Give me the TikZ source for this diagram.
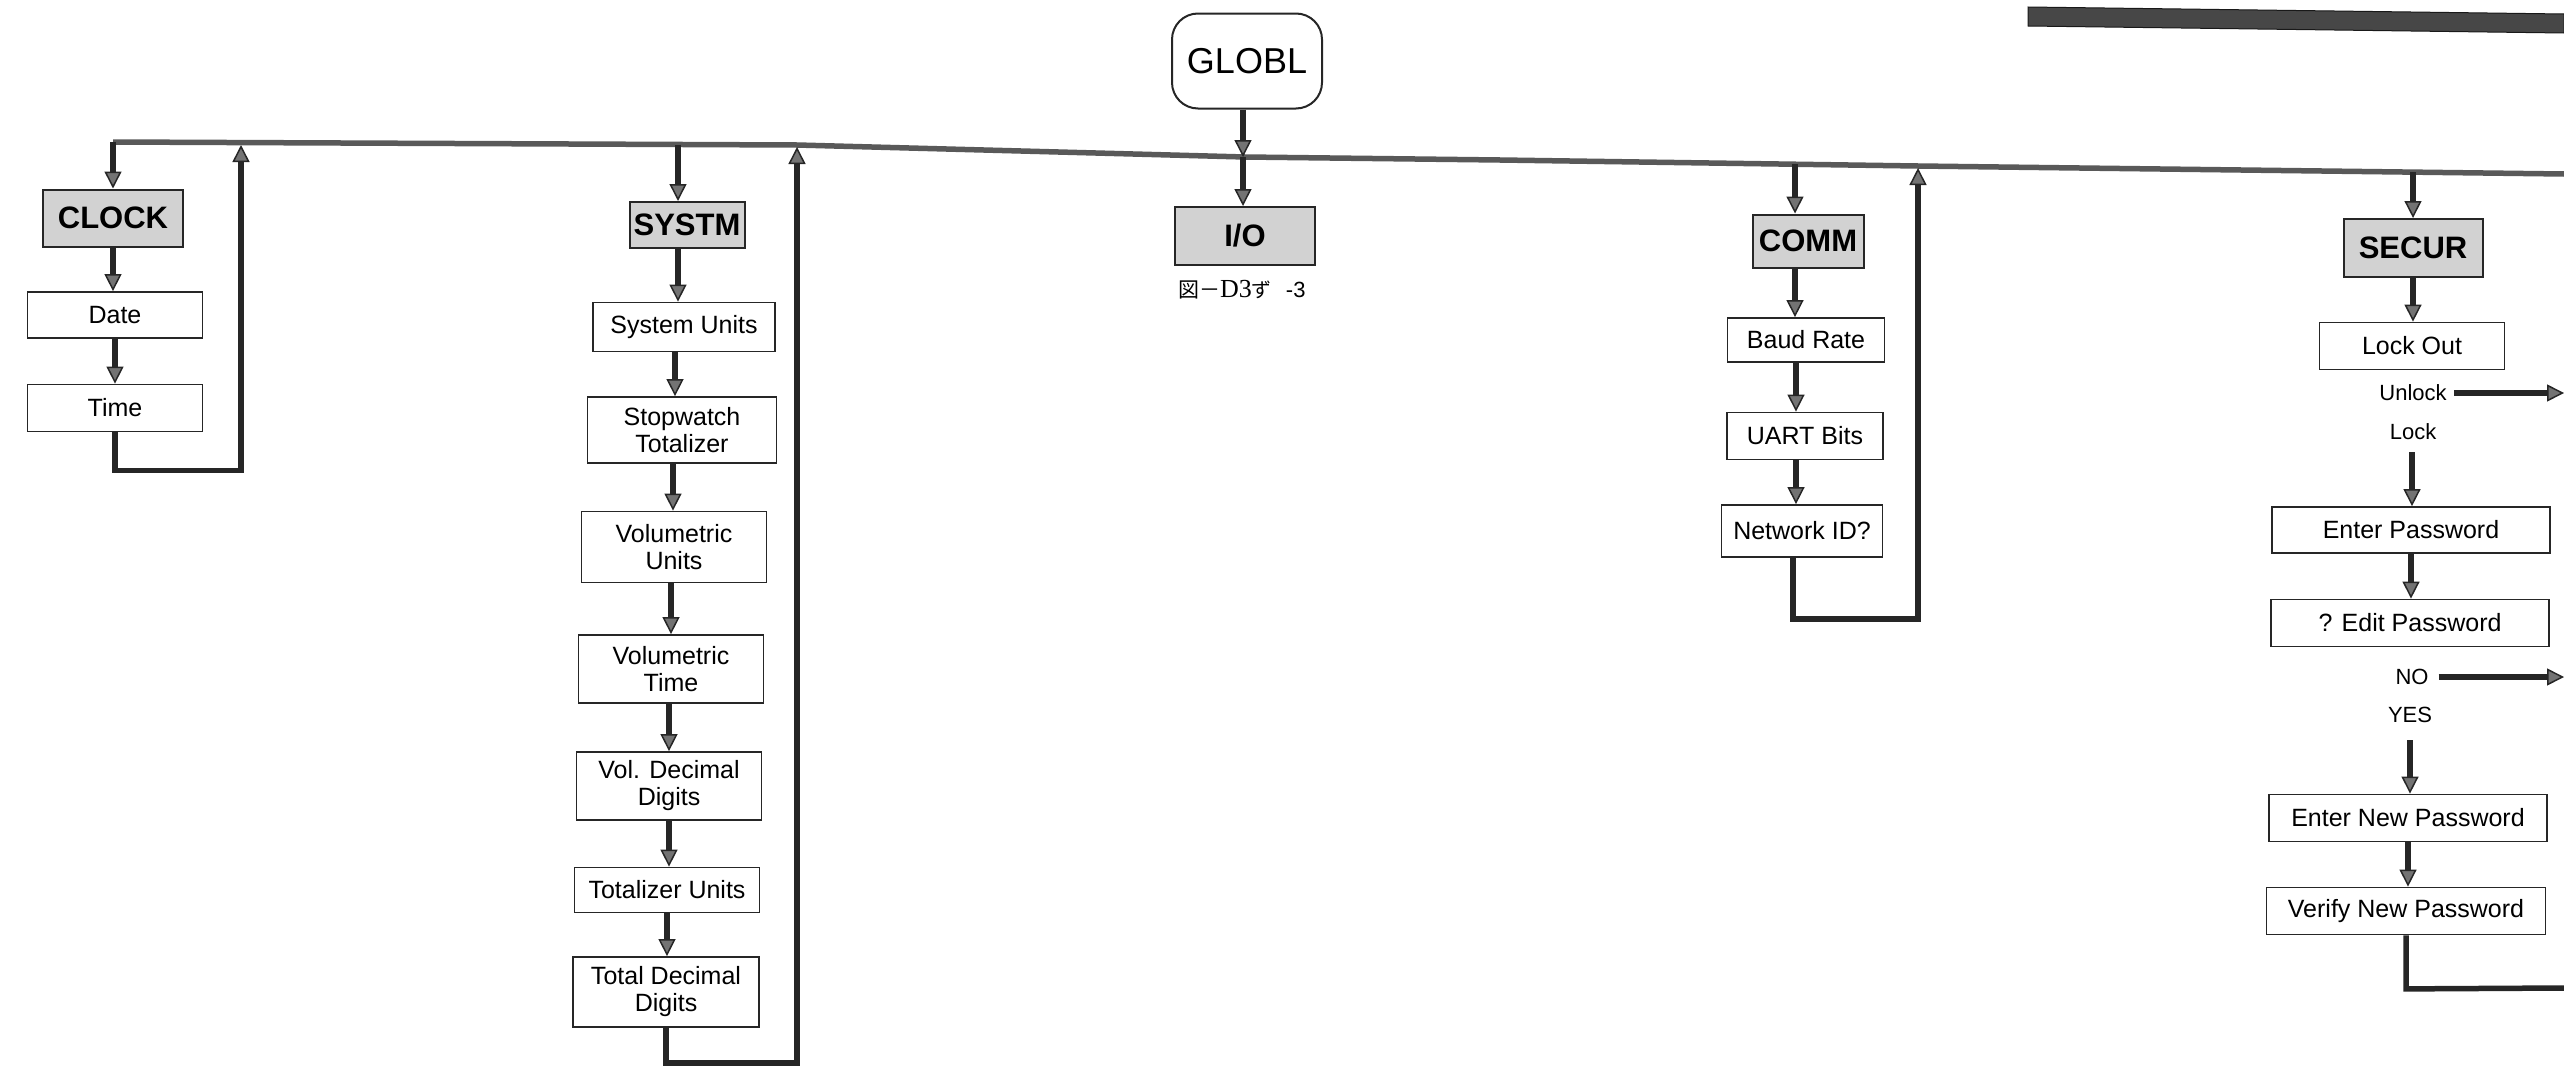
\documentclass[tikz,border=0pt]{standalone}
\usepackage{fontspec}
\setmainfont{Liberation Sans}
\newfontfamily\cjkfont{Noto Sans CJK JP}
\newfontfamily\serifont{Liberation Serif}
\usetikzlibrary{arrows.meta}
\begin{document}
\begin{tikzpicture}[x=1pt,y=-1pt,
  box/.style={draw=black!85, line width=1.8pt, fill=white, inner sep=0pt, align=center,
    font=\fontsize{25}{27}\selectfont},
  hdr/.style={draw=black!85, line width=2pt, fill=gray!35, inner sep=0pt,
    font=\fontsize{31}{33}\selectfont\bfseries},
  rbox/.style={draw=black!85, line width=2pt, fill=white, rounded corners=26pt, inner sep=0pt,
    font=\fontsize{36}{38}\selectfont},
  lbl/.style={inner sep=0pt, font=\fontsize{22}{24}\selectfont},
  conn/.style={draw=black!85, line width=5.5pt},
  arr/.style={conn, -{Triangle[length=17pt,width=17pt,line width=1.5pt,fill=black!55]}},
  bus/.style={draw=black!65, line width=5.5pt, line join=round},
]
\useasboundingbox (0,0) rectangle (2564,1068);

% top-right dark bar
\fill[black!72, draw=black!90, line width=1pt] (2028,7) -- (2564,14) -- (2564,33) -- (2028,26) -- cycle;

% bus
\coordinate (bA) at (113,142);
\coordinate (bB) at (797,145);
\coordinate (bC) at (1245,157);
\coordinate (bD) at (1500,160);
\coordinate (bE) at (1918,166);
\coordinate (bF) at (2564,174);
\draw[bus] (bA) -- (bB) -- (bC) -- (bD) -- (bE) -- (bF);

% junctions on the bus
\coordinate (jClkR) at (241,145);
\coordinate (jSys) at (678,144.5);
\coordinate (jSysR) at (797,147);
\coordinate (jGlb) at (1243,157);
\coordinate (jCom) at (1795,164);
\coordinate (jComR) at (1918,168);
\coordinate (jSec) at (2413,172);

% GLOBL and I/O
\node[rbox, minimum width=150, minimum height=95] (globl) at (1247,61) {GLOBL};
\node[hdr, minimum width=140, minimum height=58] (io) at (1245,236) {I/O};
\node[anchor=west, inner sep=0pt] (cap) at (1178,290)
  {{\cjkfont\fontsize{21}{23}\selectfont 図－}{\serifont\fontsize{26}{28}\selectfont D3}{\cjkfont\fontsize{20}{22}\selectfont ず}\hspace{14pt}{\fontsize{22}{24}\selectfont -3}};

% CLOCK column
\node[hdr, minimum width=140, minimum height=57] (clock) at (113,218) {CLOCK};
\node[box, minimum width=175, minimum height=46] (date) at (115,315) {Date};
\node[box, minimum width=175, minimum height=47] (time) at (115,408) {Time};

% SYSTM column
\node[hdr, minimum width=115, minimum height=46] (systm) at (687,225) {SYSTM};
\node[box, minimum width=182, minimum height=49] (sunits) at (684,327) {System Units};
\node[box, minimum width=189, minimum height=66] (stopw) at (682,430) {Stopwatch\\Totalizer};
\node[box, minimum width=185, minimum height=71] (vunits) at (674,547) {Volumetric\\Units};
\node[box, minimum width=185, minimum height=68] (vtime) at (671,669) {Volumetric\\Time};
\node[box, minimum width=185, minimum height=68] (vdec) at (669,786) {Vol. Decimal\\Digits};
\node[box, minimum width=185, minimum height=45] (tunits) at (667,890) {Totalizer Units};
\node[box, minimum width=186, minimum height=70] (tdec) at (666,992) {Total Decimal\\Digits};

% COMM column
\node[hdr, minimum width=111, minimum height=53] (comm) at (1808,241) {COMM};
\node[box, minimum width=157, minimum height=44] (baud) at (1806,340) {Baud Rate};
\node[box, minimum width=156, minimum height=47] (uart) at (1805,436) {UART Bits};
\node[box, minimum width=161, minimum height=52] (netid) at (1802,531) {Network ID?};

% SECUR column
\node[hdr, minimum width=139, minimum height=58] (secur) at (2413,248) {SECUR};
\node[box, minimum width=185, minimum height=47] (lockout) at (2412,346) {Lock Out};
\node[lbl] (unlock) at (2413,393) {Unlock};
\node[lbl] (lock) at (2413,432) {Lock};
\node[box, minimum width=278, minimum height=46] (enterpw) at (2411,530) {Enter Password};
\node[box, minimum width=278, minimum height=47] (editpw) at (2410,623) {? Edit Password};
\node[lbl] (no) at (2412,677) {NO};
\node[lbl] (yes) at (2410,715) {YES};
\node[box, minimum width=278, minimum height=47] (newpw) at (2408,818) {Enter New Password};
\node[box, minimum width=279, minimum height=47] (verpw) at (2406,911) {Verify New Password};

% free ends
\coordinate (lockArr) at (2412,452);
\coordinate (yesArr) at (2410,740);
\coordinate (rimX) at (2564,0);
\coordinate (secEnd) at (2564,988);

% GLOBL connectors
\draw[arr] (globl.south -| jGlb) -- (jGlb);
\draw[arr] (jGlb) -- (jGlb |- io.north);

% CLOCK connectors
\draw[arr] (bA) -- (clock.north);
\draw[arr] (clock.south) -- (clock.south |- date.north);
\draw[arr] (date.south) -- (date.south |- time.north);
\draw[arr] (time.south) -- ++(0,38) -| (jClkR);

% SYSTM connectors
\draw[arr] (jSys) -- (jSys |- systm.north);
\draw[arr] (jSys |- systm.south) -- (jSys |- sunits.north);
\draw[arr] ([xshift=-9pt]sunits.south) -- ([xshift=-9pt]sunits.south |- stopw.north);
\draw[arr] ([xshift=-9pt]stopw.south) -- ([xshift=-9pt]stopw.south |- vunits.north);
\draw[arr] ([xshift=-3pt]vunits.south) -- ([xshift=-3pt]vunits.south |- vtime.north);
\draw[arr] ([xshift=-2pt]vtime.south) -- ([xshift=-2pt]vtime.south |- vdec.north);
\draw[arr] (vdec.south) -- (vdec.south |- tunits.north);
\draw[arr] (tunits.south) -- (tunits.south |- tdec.north);
\draw[arr] (tdec.south) -- ++(0,35) -| (jSysR);

% COMM connectors
\draw[arr] (jCom) -- (jCom |- comm.north);
\draw[arr] (jCom |- comm.south) -- (jCom |- baud.north);
\draw[arr] ([xshift=-10pt]baud.south) -- ([xshift=-10pt]baud.south |- uart.north);
\draw[arr] ([xshift=-9pt]uart.south) -- ([xshift=-9pt]uart.south |- netid.north);
\draw[arr] ([xshift=-9pt]netid.south) -- ++(0,61) -| (jComR);

% SECUR connectors
\draw[arr] (jSec) -- (jSec |- secur.north);
\draw[arr] (jSec |- secur.south) -- (jSec |- lockout.north);
\draw[arr] ([xshift=7pt]unlock.east) -- (unlock.east -| rimX);
\draw[arr] (lockArr) -- (lockArr |- enterpw.north);
\draw[arr] (enterpw.south) -- (enterpw.south |- editpw.north);
\draw[arr] ([xshift=10pt]no.east) -- (no.east -| rimX);
\draw[arr] (yesArr) -- (yesArr |- newpw.north);
\draw[arr] (newpw.south) -- (newpw.south |- verpw.north);
\draw[conn, line join=miter] (verpw.south) -- ++(0,53.5) -- (secEnd);
\end{tikzpicture}
\end{document}
